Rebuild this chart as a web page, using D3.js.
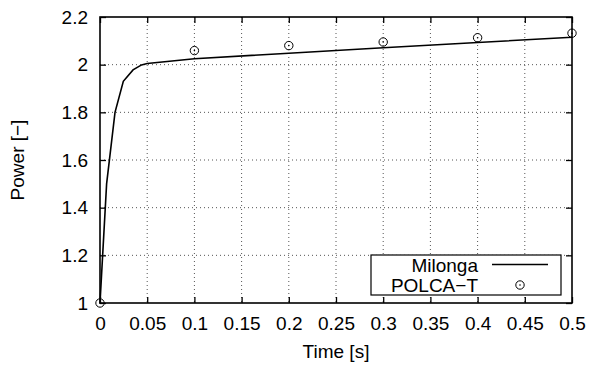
<!DOCTYPE html>
<meta charset="utf-8">
<head>
    <title>Power vs Time</title>
    <script src="https://cdn.jsdelivr.net/npm/d3@7"></script>
    <style>
        body { margin: 0; background: #fff; }
        text { font-family: "Liberation Sans", Arial, sans-serif; font-size: 19px; fill: #000; }
        .grid line { stroke: #555; stroke-dasharray: 1,3; stroke-width: 1; }
    </style>
</head>
<body>
<script>
    // data
    var milongaT = [0, 0.007, 0.0159, 0.0247, 0.035, 0.044, 0.05, 0.1, 0.2, 0.3, 0.4, 0.5];
    var milongaP = [1, 1.5, 1.80, 1.93, 1.978, 1.999, 2.005, 2.025, 2.048, 2.071, 2.093, 2.115];
    var polcaT = [0, 0.1, 0.2, 0.3, 0.4, 0.5];
    var polcaP = [1, 2.059, 2.080, 2.095, 2.113, 2.132];
    var xTicks = [0, 0.05, 0.1, 0.15, 0.2, 0.25, 0.3, 0.35, 0.4, 0.45, 0.5];
    var yTicks = [1, 1.2, 1.4, 1.6, 1.8, 2, 2.2];

    var margin = {top: 17, right: 18, bottom: 67, left: 100};
    var W = 590, H = 370;
    var width = W - margin.left - margin.right,
        height = H - margin.top - margin.bottom;

    var svg = d3.select("body").append("svg")
        .attr("width", W).attr("height", H)
        .append("g")
        .attr("transform", "translate(" + margin.left + "," + margin.top + ")");

    var x = d3.scaleLinear().domain([0, 0.5]).range([0, width]);
    var y = d3.scaleLinear().domain([1, 2.2]).range([height, 0]);

    // grid
    var grid = svg.append("g").attr("class", "grid");
    grid.selectAll(".gx").data(xTicks.slice(1, -1)).enter().append("line")
        .attr("x1", d => x(d)).attr("x2", d => x(d))
        .attr("y1", 0).attr("y2", height);
    grid.selectAll(".gy").data(yTicks.slice(1, -1)).enter().append("line")
        .attr("y1", d => y(d)).attr("y2", d => y(d))
        .attr("x1", 0).attr("x2", width);

    // axes with inward ticks, mirrored
    var fmt = d => String(+d.toFixed(2));
    svg.append("g").attr("transform", "translate(0," + height + ")")
        .call(d3.axisBottom(x).tickValues(xTicks).tickFormat(fmt).tickSizeInner(-6).tickSizeOuter(0).tickPadding(14))
        .call(g => g.select(".domain").remove());
    svg.append("g")
        .call(d3.axisTop(x).tickValues(xTicks).tickFormat("").tickSizeInner(-6).tickSizeOuter(0))
        .call(g => g.select(".domain").remove());
    svg.append("g")
        .call(d3.axisLeft(y).tickValues(yTicks).tickFormat(fmt).tickSizeInner(-6).tickSizeOuter(0).tickPadding(12))
        .call(g => g.select(".domain").remove());
    svg.append("g").attr("transform", "translate(" + width + ",0)")
        .call(d3.axisRight(y).tickValues(yTicks).tickFormat("").tickSizeInner(-6).tickSizeOuter(0))
        .call(g => g.select(".domain").remove());
    svg.selectAll(".tick line").attr("stroke", "#000").attr("stroke-width", 1.3);
    svg.selectAll(".tick text").style("font-size", "19px").attr("fill", "#000")
        .style("font-family", "Liberation Sans, Arial, sans-serif");

    // Milonga line
    var line = d3.line().x(d => x(d[0])).y(d => y(d[1]));
    svg.append("path")
        .datum(milongaT.map((t, i) => [t, milongaP[i]]))
        .attr("d", line).attr("fill", "none")
        .attr("stroke", "#000").attr("stroke-width", 1.6);

    // POLCA-T points
    function marker(g, cx, cy) {
        g.append("circle").attr("cx", cx).attr("cy", cy).attr("r", 4.2)
            .attr("fill", "none").attr("stroke", "#000").attr("stroke-width", 1);
        g.append("circle").attr("cx", cx).attr("cy", cy).attr("r", 0.8).attr("fill", "#000");
    }
    polcaT.forEach((t, i) => marker(svg, x(t), y(polcaP[i])));

    // frame
    svg.append("rect").attr("width", width).attr("height", height)
        .attr("fill", "none").attr("stroke", "#000").attr("stroke-width", 1.6);

    // legend
    var lg = svg.append("g").attr("transform", "translate(" + (371 - margin.left) + "," + (255 - margin.top) + ")");
    lg.append("rect").attr("width", 190).attr("height", 40)
        .attr("fill", "#fff").attr("stroke", "#000").attr("stroke-width", 1.2);
    lg.append("text").attr("x", 107).attr("y", 16.5).attr("text-anchor", "end").text("Milonga");
    lg.append("text").attr("x", 107).attr("y", 36.5).attr("text-anchor", "end").text("POLCA\u2212T");
    lg.append("line").attr("x1", 121).attr("x2", 177).attr("y1", 9.5).attr("y2", 9.5)
        .attr("stroke", "#000").attr("stroke-width", 1.6);
    marker(lg, 149, 30);

    // axis titles
    svg.append("text").attr("x", width / 2).attr("y", height + 55)
        .attr("text-anchor", "middle").text("Time [s]");
    svg.append("text").attr("transform", "translate(" + (24 - margin.left) + "," + (height / 2) + ") rotate(-90)")
        .attr("text-anchor", "middle").text("Power [\u2212]");
</script>
</body>
